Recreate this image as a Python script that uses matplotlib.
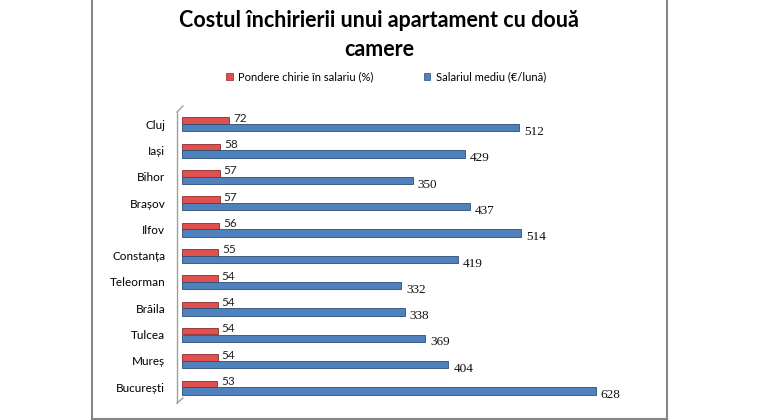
import matplotlib
matplotlib.use("Agg")
import matplotlib.pyplot as plt
from matplotlib.patches import Patch
from matplotlib.lines import Line2D
import numpy as np

judete = ["Cluj", "Iași", "Bihor", "Brașov", "Ilfov", "Constanța",
          "Teleorman", "Brăila", "Tulcea", "Mureș", "București"]
pondere = [72, 58, 57, 57, 56, 55, 54, 54, 54, 54, 53]
salariu = [512, 429, 350, 437, 514, 419, 332, 338, 369, 404, 628]

titlu = "Costul închirierii unui apartament cu două\ncamere"
leg_pondere = "Pondere chirie în salariu (%)"
leg_salariu = "Salariul mediu (€/lună)"

plt.rcParams["font.family"] = ["Lato", "DejaVu Sans"]

rosu = "#e0504f"
albastru = "#4f81bd"

W, H = 760, 420
fig = plt.figure(figsize=(7.6, 4.2), dpi=100)
ax = fig.add_axes([182 / W, 1 - 403 / H, (643 - 182) / W, 296 / H])

y = np.arange(len(judete))
ax.barh(y - 0.13, pondere, height=0.25, color=rosu, edgecolor="#8c2a2a", linewidth=0.6)
ax.barh(y + 0.14, salariu, height=0.28, color=albastru, edgecolor="#2c4d75", linewidth=0.6)

for yi, p, s in zip(y, pondere, salariu):
    ax.text(p + 6, yi - 0.22, str(p), fontsize=8.5, va="center", ha="left",
            color="#222222")
    ax.text(s + 8, yi + 0.3, str(s), fontsize=9.5, va="center", ha="left",
            family=["Liberation Serif", "DejaVu Serif"], color="#111111")

ax.set_xlim(0, 700)
ax.set_ylim(10.6, -0.65)
ax.set_yticks(y)
ax.set_yticklabels(judete, fontsize=8.5)
ax.tick_params(axis="y", length=0, pad=12)
ax.set_xticks([])
for sp in ["top", "right", "bottom", "left"]:
    ax.spines[sp].set_visible(False)

# peretele 3D din stanga
gri = "#a0a0a0"
def px(xp, yp):
    return xp / W, 1 - yp / H
for (x0, y0), (x1, y1) in [((177, 112), (177, 403)), ((177, 112), (183, 106)),
                           ((177, 403), (183, 398))]:
    a, b = px(x0, y0)
    c, d = px(x1, y1)
    fig.add_artist(Line2D([a, c], [b, d], color=gri, lw=1.0))

# chenarul graficului
chenar = "#868686"
for (x0, y0), (x1, y1) in [((92, 0), (92, 419)), ((667, 0), (667, 419)),
                           ((92, 419), (667, 419))]:
    a, b = px(x0, y0)
    c, d = px(x1, y1)
    fig.add_artist(Line2D([a, c], [b, d], color=chenar, lw=1.5))

fig.text(379 / W, 1 - 35 / H, titlu, ha="center", va="center", fontsize=15.5,
         fontweight="bold", linespacing=1.5)

handles = [Patch(facecolor=rosu, edgecolor="#8c2a2a", lw=0.5),
           Patch(facecolor=albastru, edgecolor="#2c4d75", lw=0.5)]
fig.legend(handles, [leg_pondere, leg_salariu], loc="center",
           bbox_to_anchor=(386 / W, 1 - 77 / H), ncol=2, frameon=False,
           fontsize=8, handlelength=0.6, handleheight=0.6, handletextpad=0.5,
           columnspacing=4.5)

fig.savefig("out.png", dpi=100)
